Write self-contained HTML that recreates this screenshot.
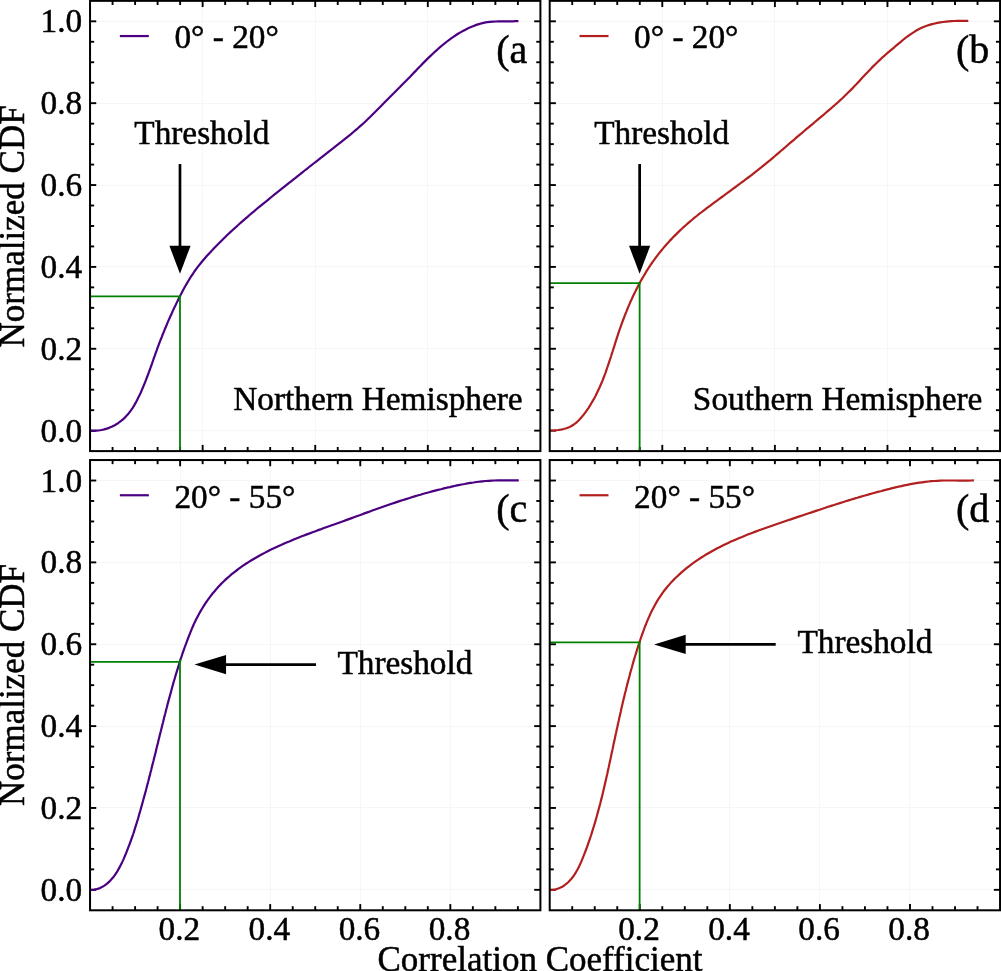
<!DOCTYPE html>
<html lang="en">
<head>
<meta charset="utf-8">
<title>Normalized CDF of correlation coefficient</title>
<style>
html,body{margin:0;padding:0;background:#fff;}
body{width:1001px;height:971px;overflow:hidden;}
svg{display:block;font-family:"Liberation Serif","Times New Roman",Times,serif;fill:#000;}
svg text{fill:#000;stroke:#000;stroke-width:0.5px;}
</style>
</head>
<body>
<svg width="1001" height="971" viewBox="0 0 1001 971">
<rect x="0" y="0" width="1001" height="971" fill="#fff"/>
<g>
<line x1="202.50" y1="0.85" x2="202.50" y2="451.10" stroke="#f6f6f6" stroke-width="1" />
<line x1="315.50" y1="0.85" x2="315.50" y2="451.10" stroke="#f6f6f6" stroke-width="1" />
<line x1="427.50" y1="0.85" x2="427.50" y2="451.10" stroke="#f6f6f6" stroke-width="1" />
<line x1="90.05" y1="430.50" x2="540.40" y2="430.50" stroke="#f6f6f6" stroke-width="1" />
<line x1="90.05" y1="348.50" x2="540.40" y2="348.50" stroke="#f6f6f6" stroke-width="1" />
<line x1="90.05" y1="266.50" x2="540.40" y2="266.50" stroke="#f6f6f6" stroke-width="1" />
<line x1="90.05" y1="185.50" x2="540.40" y2="185.50" stroke="#f6f6f6" stroke-width="1" />
<line x1="90.05" y1="103.50" x2="540.40" y2="103.50" stroke="#f6f6f6" stroke-width="1" />
<line x1="90.05" y1="21.50" x2="540.40" y2="21.50" stroke="#f6f6f6" stroke-width="1" />
<line x1="112.57" y1="451.10" x2="112.57" y2="447.00" stroke="#000" stroke-width="1.9" />
<line x1="112.57" y1="0.85" x2="112.57" y2="4.95" stroke="#000" stroke-width="1.9" />
<line x1="135.09" y1="451.10" x2="135.09" y2="447.00" stroke="#000" stroke-width="1.9" />
<line x1="135.09" y1="0.85" x2="135.09" y2="4.95" stroke="#000" stroke-width="1.9" />
<line x1="157.60" y1="451.10" x2="157.60" y2="447.00" stroke="#000" stroke-width="1.9" />
<line x1="157.60" y1="0.85" x2="157.60" y2="4.95" stroke="#000" stroke-width="1.9" />
<line x1="180.12" y1="451.10" x2="180.12" y2="447.00" stroke="#000" stroke-width="1.9" />
<line x1="180.12" y1="0.85" x2="180.12" y2="4.95" stroke="#000" stroke-width="1.9" />
<line x1="202.64" y1="451.10" x2="202.64" y2="444.90" stroke="#000" stroke-width="1.9" />
<line x1="202.64" y1="0.85" x2="202.64" y2="7.05" stroke="#000" stroke-width="1.9" />
<line x1="225.16" y1="451.10" x2="225.16" y2="447.00" stroke="#000" stroke-width="1.9" />
<line x1="225.16" y1="0.85" x2="225.16" y2="4.95" stroke="#000" stroke-width="1.9" />
<line x1="247.67" y1="451.10" x2="247.67" y2="447.00" stroke="#000" stroke-width="1.9" />
<line x1="247.67" y1="0.85" x2="247.67" y2="4.95" stroke="#000" stroke-width="1.9" />
<line x1="270.19" y1="451.10" x2="270.19" y2="447.00" stroke="#000" stroke-width="1.9" />
<line x1="270.19" y1="0.85" x2="270.19" y2="4.95" stroke="#000" stroke-width="1.9" />
<line x1="292.71" y1="451.10" x2="292.71" y2="447.00" stroke="#000" stroke-width="1.9" />
<line x1="292.71" y1="0.85" x2="292.71" y2="4.95" stroke="#000" stroke-width="1.9" />
<line x1="315.23" y1="451.10" x2="315.23" y2="444.90" stroke="#000" stroke-width="1.9" />
<line x1="315.23" y1="0.85" x2="315.23" y2="7.05" stroke="#000" stroke-width="1.9" />
<line x1="337.74" y1="451.10" x2="337.74" y2="447.00" stroke="#000" stroke-width="1.9" />
<line x1="337.74" y1="0.85" x2="337.74" y2="4.95" stroke="#000" stroke-width="1.9" />
<line x1="360.26" y1="451.10" x2="360.26" y2="447.00" stroke="#000" stroke-width="1.9" />
<line x1="360.26" y1="0.85" x2="360.26" y2="4.95" stroke="#000" stroke-width="1.9" />
<line x1="382.78" y1="451.10" x2="382.78" y2="447.00" stroke="#000" stroke-width="1.9" />
<line x1="382.78" y1="0.85" x2="382.78" y2="4.95" stroke="#000" stroke-width="1.9" />
<line x1="405.30" y1="451.10" x2="405.30" y2="447.00" stroke="#000" stroke-width="1.9" />
<line x1="405.30" y1="0.85" x2="405.30" y2="4.95" stroke="#000" stroke-width="1.9" />
<line x1="427.81" y1="451.10" x2="427.81" y2="444.90" stroke="#000" stroke-width="1.9" />
<line x1="427.81" y1="0.85" x2="427.81" y2="7.05" stroke="#000" stroke-width="1.9" />
<line x1="450.33" y1="451.10" x2="450.33" y2="447.00" stroke="#000" stroke-width="1.9" />
<line x1="450.33" y1="0.85" x2="450.33" y2="4.95" stroke="#000" stroke-width="1.9" />
<line x1="472.85" y1="451.10" x2="472.85" y2="447.00" stroke="#000" stroke-width="1.9" />
<line x1="472.85" y1="0.85" x2="472.85" y2="4.95" stroke="#000" stroke-width="1.9" />
<line x1="495.37" y1="451.10" x2="495.37" y2="447.00" stroke="#000" stroke-width="1.9" />
<line x1="495.37" y1="0.85" x2="495.37" y2="4.95" stroke="#000" stroke-width="1.9" />
<line x1="517.88" y1="451.10" x2="517.88" y2="447.00" stroke="#000" stroke-width="1.9" />
<line x1="517.88" y1="0.85" x2="517.88" y2="4.95" stroke="#000" stroke-width="1.9" />
<line x1="90.05" y1="430.63" x2="96.25" y2="430.63" stroke="#000" stroke-width="1.9" />
<line x1="540.40" y1="430.63" x2="534.20" y2="430.63" stroke="#000" stroke-width="1.9" />
<line x1="90.05" y1="410.17" x2="94.15" y2="410.17" stroke="#000" stroke-width="1.9" />
<line x1="540.40" y1="410.17" x2="536.30" y2="410.17" stroke="#000" stroke-width="1.9" />
<line x1="90.05" y1="389.70" x2="94.15" y2="389.70" stroke="#000" stroke-width="1.9" />
<line x1="540.40" y1="389.70" x2="536.30" y2="389.70" stroke="#000" stroke-width="1.9" />
<line x1="90.05" y1="369.24" x2="94.15" y2="369.24" stroke="#000" stroke-width="1.9" />
<line x1="540.40" y1="369.24" x2="536.30" y2="369.24" stroke="#000" stroke-width="1.9" />
<line x1="90.05" y1="348.77" x2="96.25" y2="348.77" stroke="#000" stroke-width="1.9" />
<line x1="540.40" y1="348.77" x2="534.20" y2="348.77" stroke="#000" stroke-width="1.9" />
<line x1="90.05" y1="328.30" x2="94.15" y2="328.30" stroke="#000" stroke-width="1.9" />
<line x1="540.40" y1="328.30" x2="536.30" y2="328.30" stroke="#000" stroke-width="1.9" />
<line x1="90.05" y1="307.84" x2="94.15" y2="307.84" stroke="#000" stroke-width="1.9" />
<line x1="540.40" y1="307.84" x2="536.30" y2="307.84" stroke="#000" stroke-width="1.9" />
<line x1="90.05" y1="287.37" x2="94.15" y2="287.37" stroke="#000" stroke-width="1.9" />
<line x1="540.40" y1="287.37" x2="536.30" y2="287.37" stroke="#000" stroke-width="1.9" />
<line x1="90.05" y1="266.91" x2="96.25" y2="266.91" stroke="#000" stroke-width="1.9" />
<line x1="540.40" y1="266.91" x2="534.20" y2="266.91" stroke="#000" stroke-width="1.9" />
<line x1="90.05" y1="246.44" x2="94.15" y2="246.44" stroke="#000" stroke-width="1.9" />
<line x1="540.40" y1="246.44" x2="536.30" y2="246.44" stroke="#000" stroke-width="1.9" />
<line x1="90.05" y1="225.98" x2="94.15" y2="225.98" stroke="#000" stroke-width="1.9" />
<line x1="540.40" y1="225.98" x2="536.30" y2="225.98" stroke="#000" stroke-width="1.9" />
<line x1="90.05" y1="205.51" x2="94.15" y2="205.51" stroke="#000" stroke-width="1.9" />
<line x1="540.40" y1="205.51" x2="536.30" y2="205.51" stroke="#000" stroke-width="1.9" />
<line x1="90.05" y1="185.04" x2="96.25" y2="185.04" stroke="#000" stroke-width="1.9" />
<line x1="540.40" y1="185.04" x2="534.20" y2="185.04" stroke="#000" stroke-width="1.9" />
<line x1="90.05" y1="164.58" x2="94.15" y2="164.58" stroke="#000" stroke-width="1.9" />
<line x1="540.40" y1="164.58" x2="536.30" y2="164.58" stroke="#000" stroke-width="1.9" />
<line x1="90.05" y1="144.11" x2="94.15" y2="144.11" stroke="#000" stroke-width="1.9" />
<line x1="540.40" y1="144.11" x2="536.30" y2="144.11" stroke="#000" stroke-width="1.9" />
<line x1="90.05" y1="123.65" x2="94.15" y2="123.65" stroke="#000" stroke-width="1.9" />
<line x1="540.40" y1="123.65" x2="536.30" y2="123.65" stroke="#000" stroke-width="1.9" />
<line x1="90.05" y1="103.18" x2="96.25" y2="103.18" stroke="#000" stroke-width="1.9" />
<line x1="540.40" y1="103.18" x2="534.20" y2="103.18" stroke="#000" stroke-width="1.9" />
<line x1="90.05" y1="82.71" x2="94.15" y2="82.71" stroke="#000" stroke-width="1.9" />
<line x1="540.40" y1="82.71" x2="536.30" y2="82.71" stroke="#000" stroke-width="1.9" />
<line x1="90.05" y1="62.25" x2="94.15" y2="62.25" stroke="#000" stroke-width="1.9" />
<line x1="540.40" y1="62.25" x2="536.30" y2="62.25" stroke="#000" stroke-width="1.9" />
<line x1="90.05" y1="41.78" x2="94.15" y2="41.78" stroke="#000" stroke-width="1.9" />
<line x1="540.40" y1="41.78" x2="536.30" y2="41.78" stroke="#000" stroke-width="1.9" />
<line x1="90.05" y1="21.32" x2="96.25" y2="21.32" stroke="#000" stroke-width="1.9" />
<line x1="540.40" y1="21.32" x2="534.20" y2="21.32" stroke="#000" stroke-width="1.9" />
<path d="M90.0,430.6 L92.9,430.8 L95.8,430.7 L98.6,430.5 L101.5,430.0 L104.2,429.4 L106.9,428.6 L109.6,427.6 L112.2,426.5 L114.7,425.2 L117.1,423.8 L119.4,422.2 L121.7,420.4 L123.8,418.6 L125.8,416.6 L127.7,414.6 L129.4,412.4 L131.1,410.1 L132.7,407.8 L134.2,405.4 L135.6,402.9 L136.9,400.4 L138.2,397.8 L139.5,395.3 L140.7,392.7 L141.8,390.1 L142.9,387.5 L144.0,384.8 L145.1,382.2 L146.1,379.6 L147.1,377.0 L148.1,374.3 L149.1,371.7 L150.1,369.0 L151.0,366.3 L152.0,363.7 L152.9,361.0 L153.8,358.4 L154.8,355.7 L155.7,353.0 L156.7,350.4 L157.6,347.7 L158.6,345.1 L159.6,342.4 L160.6,339.8 L161.7,337.2 L162.7,334.5 L163.8,331.9 L164.8,329.3 L165.9,326.7 L167.0,324.1 L168.1,321.4 L169.3,318.8 L170.4,316.3 L171.6,313.7 L172.7,311.1 L173.9,308.5 L175.2,306.0 L176.4,303.4 L177.6,300.9 L178.9,298.3 L180.2,295.8 L181.5,293.3 L182.8,290.8 L184.1,288.3 L185.5,285.8 L186.9,283.4 L188.3,281.0 L189.8,278.5 L191.3,276.2 L192.9,273.8 L194.4,271.5 L196.1,269.2 L197.8,266.9 L199.5,264.7 L201.3,262.5 L203.1,260.3 L204.9,258.2 L206.8,256.0 L208.7,253.9 L210.6,251.9 L212.6,249.8 L214.5,247.7 L216.5,245.7 L218.5,243.7 L220.5,241.7 L222.5,239.7 L224.5,237.7 L226.5,235.8 L228.6,233.8 L230.6,231.9 L232.7,230.0 L234.8,228.1 L236.9,226.2 L239.0,224.3 L241.1,222.4 L243.2,220.6 L245.4,218.7 L247.5,216.9 L249.6,215.0 L251.8,213.2 L254.0,211.4 L256.1,209.5 L258.3,207.7 L260.5,205.9 L262.7,204.1 L264.9,202.3 L267.1,200.6 L269.2,198.8 L271.4,197.0 L273.7,195.2 L275.9,193.4 L278.1,191.7 L280.3,189.9 L282.5,188.1 L284.7,186.4 L286.9,184.6 L289.1,182.8 L291.4,181.1 L293.6,179.3 L295.8,177.6 L298.0,175.8 L300.2,174.1 L302.4,172.3 L304.7,170.5 L306.9,168.8 L309.1,167.0 L311.3,165.3 L313.6,163.5 L315.8,161.8 L318.0,160.1 L320.2,158.3 L322.4,156.6 L324.7,154.8 L326.9,153.1 L329.1,151.3 L331.4,149.6 L333.6,147.9 L335.8,146.1 L338.0,144.4 L340.3,142.6 L342.5,140.9 L344.7,139.1 L346.9,137.3 L349.1,135.6 L351.3,133.8 L353.4,132.0 L355.6,130.1 L357.8,128.3 L359.9,126.4 L362.0,124.6 L364.1,122.7 L366.2,120.7 L368.2,118.8 L370.3,116.8 L372.3,114.8 L374.3,112.8 L376.3,110.8 L378.3,108.8 L380.3,106.8 L382.3,104.7 L384.2,102.7 L386.2,100.7 L388.2,98.7 L390.2,96.7 L392.2,94.7 L394.2,92.8 L396.2,90.8 L398.2,88.8 L400.2,86.8 L402.1,84.8 L404.1,82.8 L406.1,80.8 L408.1,78.7 L410.1,76.7 L412.0,74.7 L414.0,72.6 L416.0,70.6 L417.9,68.5 L419.9,66.5 L421.9,64.4 L423.9,62.4 L425.9,60.4 L427.9,58.4 L430.0,56.4 L432.0,54.5 L434.1,52.5 L436.2,50.6 L438.3,48.7 L440.4,46.9 L442.6,45.0 L444.7,43.3 L447.0,41.5 L449.2,39.8 L451.5,38.2 L453.8,36.6 L456.1,35.0 L458.5,33.5 L460.9,32.1 L463.4,30.7 L465.9,29.4 L468.5,28.1 L471.0,27.0 L473.7,25.9 L476.3,24.9 L479.0,24.1 L481.7,23.3 L484.5,22.7 L487.2,22.2 L490.0,21.9 L492.9,21.6 L495.7,21.5 L498.6,21.4 L501.4,21.3 L504.3,21.3 L507.1,21.4 L510.0,21.3 L512.8,21.3 L515.6,21.2 L518.4,21.1" fill="none" stroke="#4b0082" stroke-width="2.2" stroke-linejoin="round"/>
<line x1="90.05" y1="296.40" x2="180.88" y2="296.40" stroke="#008000" stroke-width="1.8" />
<line x1="179.98" y1="451.10" x2="179.98" y2="295.50" stroke="#008000" stroke-width="1.8" />
<rect x="90.05" y="0.85" width="450.35" height="450.25" fill="none" stroke="#000" stroke-width="2.0"/>
<text x="82.15" y="441.73" font-size="33.3" text-anchor="end" >0.0</text>
<text x="82.15" y="359.87" font-size="33.3" text-anchor="end" >0.2</text>
<text x="82.15" y="278.01" font-size="33.3" text-anchor="end" >0.4</text>
<text x="82.15" y="196.14" font-size="33.3" text-anchor="end" >0.6</text>
<text x="82.15" y="114.28" font-size="33.3" text-anchor="end" >0.8</text>
<text x="82.15" y="32.42" font-size="33.3" text-anchor="end" >1.0</text>
<line x1="119.85" y1="36.05" x2="148.85" y2="36.05" stroke="#4b0082" stroke-width="2.2" />
<text x="174.45" y="48.45" font-size="33.3" text-anchor="start" >0° - 20°</text>
<text x="496.25" y="62.65" font-size="40" text-anchor="start" >(a</text>
<text x="522.65" y="410.15" font-size="33.3" text-anchor="end" >Northern Hemisphere</text>
<line x1="179.98" y1="164.05" x2="179.98" y2="246.85" stroke="#000" stroke-width="2.7" />
<polygon points="169.38,245.85 190.58,245.85 179.98,273.65" fill="#000"/>
<text x="134.30" y="144.30" font-size="33.3" text-anchor="start" >Threshold</text>
</g>
<g>
<line x1="662.50" y1="0.85" x2="662.50" y2="451.10" stroke="#f6f6f6" stroke-width="1" />
<line x1="774.50" y1="0.85" x2="774.50" y2="451.10" stroke="#f6f6f6" stroke-width="1" />
<line x1="887.50" y1="0.85" x2="887.50" y2="451.10" stroke="#f6f6f6" stroke-width="1" />
<line x1="549.70" y1="430.50" x2="1000.05" y2="430.50" stroke="#f6f6f6" stroke-width="1" />
<line x1="549.70" y1="348.50" x2="1000.05" y2="348.50" stroke="#f6f6f6" stroke-width="1" />
<line x1="549.70" y1="266.50" x2="1000.05" y2="266.50" stroke="#f6f6f6" stroke-width="1" />
<line x1="549.70" y1="185.50" x2="1000.05" y2="185.50" stroke="#f6f6f6" stroke-width="1" />
<line x1="549.70" y1="103.50" x2="1000.05" y2="103.50" stroke="#f6f6f6" stroke-width="1" />
<line x1="549.70" y1="21.50" x2="1000.05" y2="21.50" stroke="#f6f6f6" stroke-width="1" />
<line x1="572.22" y1="451.10" x2="572.22" y2="447.00" stroke="#000" stroke-width="1.9" />
<line x1="572.22" y1="0.85" x2="572.22" y2="4.95" stroke="#000" stroke-width="1.9" />
<line x1="594.74" y1="451.10" x2="594.74" y2="447.00" stroke="#000" stroke-width="1.9" />
<line x1="594.74" y1="0.85" x2="594.74" y2="4.95" stroke="#000" stroke-width="1.9" />
<line x1="617.25" y1="451.10" x2="617.25" y2="447.00" stroke="#000" stroke-width="1.9" />
<line x1="617.25" y1="0.85" x2="617.25" y2="4.95" stroke="#000" stroke-width="1.9" />
<line x1="639.77" y1="451.10" x2="639.77" y2="447.00" stroke="#000" stroke-width="1.9" />
<line x1="639.77" y1="0.85" x2="639.77" y2="4.95" stroke="#000" stroke-width="1.9" />
<line x1="662.29" y1="451.10" x2="662.29" y2="444.90" stroke="#000" stroke-width="1.9" />
<line x1="662.29" y1="0.85" x2="662.29" y2="7.05" stroke="#000" stroke-width="1.9" />
<line x1="684.81" y1="451.10" x2="684.81" y2="447.00" stroke="#000" stroke-width="1.9" />
<line x1="684.81" y1="0.85" x2="684.81" y2="4.95" stroke="#000" stroke-width="1.9" />
<line x1="707.32" y1="451.10" x2="707.32" y2="447.00" stroke="#000" stroke-width="1.9" />
<line x1="707.32" y1="0.85" x2="707.32" y2="4.95" stroke="#000" stroke-width="1.9" />
<line x1="729.84" y1="451.10" x2="729.84" y2="447.00" stroke="#000" stroke-width="1.9" />
<line x1="729.84" y1="0.85" x2="729.84" y2="4.95" stroke="#000" stroke-width="1.9" />
<line x1="752.36" y1="451.10" x2="752.36" y2="447.00" stroke="#000" stroke-width="1.9" />
<line x1="752.36" y1="0.85" x2="752.36" y2="4.95" stroke="#000" stroke-width="1.9" />
<line x1="774.88" y1="451.10" x2="774.88" y2="444.90" stroke="#000" stroke-width="1.9" />
<line x1="774.88" y1="0.85" x2="774.88" y2="7.05" stroke="#000" stroke-width="1.9" />
<line x1="797.39" y1="451.10" x2="797.39" y2="447.00" stroke="#000" stroke-width="1.9" />
<line x1="797.39" y1="0.85" x2="797.39" y2="4.95" stroke="#000" stroke-width="1.9" />
<line x1="819.91" y1="451.10" x2="819.91" y2="447.00" stroke="#000" stroke-width="1.9" />
<line x1="819.91" y1="0.85" x2="819.91" y2="4.95" stroke="#000" stroke-width="1.9" />
<line x1="842.43" y1="451.10" x2="842.43" y2="447.00" stroke="#000" stroke-width="1.9" />
<line x1="842.43" y1="0.85" x2="842.43" y2="4.95" stroke="#000" stroke-width="1.9" />
<line x1="864.95" y1="451.10" x2="864.95" y2="447.00" stroke="#000" stroke-width="1.9" />
<line x1="864.95" y1="0.85" x2="864.95" y2="4.95" stroke="#000" stroke-width="1.9" />
<line x1="887.46" y1="451.10" x2="887.46" y2="444.90" stroke="#000" stroke-width="1.9" />
<line x1="887.46" y1="0.85" x2="887.46" y2="7.05" stroke="#000" stroke-width="1.9" />
<line x1="909.98" y1="451.10" x2="909.98" y2="447.00" stroke="#000" stroke-width="1.9" />
<line x1="909.98" y1="0.85" x2="909.98" y2="4.95" stroke="#000" stroke-width="1.9" />
<line x1="932.50" y1="451.10" x2="932.50" y2="447.00" stroke="#000" stroke-width="1.9" />
<line x1="932.50" y1="0.85" x2="932.50" y2="4.95" stroke="#000" stroke-width="1.9" />
<line x1="955.02" y1="451.10" x2="955.02" y2="447.00" stroke="#000" stroke-width="1.9" />
<line x1="955.02" y1="0.85" x2="955.02" y2="4.95" stroke="#000" stroke-width="1.9" />
<line x1="977.53" y1="451.10" x2="977.53" y2="447.00" stroke="#000" stroke-width="1.9" />
<line x1="977.53" y1="0.85" x2="977.53" y2="4.95" stroke="#000" stroke-width="1.9" />
<line x1="549.70" y1="430.63" x2="555.90" y2="430.63" stroke="#000" stroke-width="1.9" />
<line x1="1000.05" y1="430.63" x2="993.85" y2="430.63" stroke="#000" stroke-width="1.9" />
<line x1="549.70" y1="410.17" x2="553.80" y2="410.17" stroke="#000" stroke-width="1.9" />
<line x1="1000.05" y1="410.17" x2="995.95" y2="410.17" stroke="#000" stroke-width="1.9" />
<line x1="549.70" y1="389.70" x2="553.80" y2="389.70" stroke="#000" stroke-width="1.9" />
<line x1="1000.05" y1="389.70" x2="995.95" y2="389.70" stroke="#000" stroke-width="1.9" />
<line x1="549.70" y1="369.24" x2="553.80" y2="369.24" stroke="#000" stroke-width="1.9" />
<line x1="1000.05" y1="369.24" x2="995.95" y2="369.24" stroke="#000" stroke-width="1.9" />
<line x1="549.70" y1="348.77" x2="555.90" y2="348.77" stroke="#000" stroke-width="1.9" />
<line x1="1000.05" y1="348.77" x2="993.85" y2="348.77" stroke="#000" stroke-width="1.9" />
<line x1="549.70" y1="328.30" x2="553.80" y2="328.30" stroke="#000" stroke-width="1.9" />
<line x1="1000.05" y1="328.30" x2="995.95" y2="328.30" stroke="#000" stroke-width="1.9" />
<line x1="549.70" y1="307.84" x2="553.80" y2="307.84" stroke="#000" stroke-width="1.9" />
<line x1="1000.05" y1="307.84" x2="995.95" y2="307.84" stroke="#000" stroke-width="1.9" />
<line x1="549.70" y1="287.37" x2="553.80" y2="287.37" stroke="#000" stroke-width="1.9" />
<line x1="1000.05" y1="287.37" x2="995.95" y2="287.37" stroke="#000" stroke-width="1.9" />
<line x1="549.70" y1="266.91" x2="555.90" y2="266.91" stroke="#000" stroke-width="1.9" />
<line x1="1000.05" y1="266.91" x2="993.85" y2="266.91" stroke="#000" stroke-width="1.9" />
<line x1="549.70" y1="246.44" x2="553.80" y2="246.44" stroke="#000" stroke-width="1.9" />
<line x1="1000.05" y1="246.44" x2="995.95" y2="246.44" stroke="#000" stroke-width="1.9" />
<line x1="549.70" y1="225.98" x2="553.80" y2="225.98" stroke="#000" stroke-width="1.9" />
<line x1="1000.05" y1="225.98" x2="995.95" y2="225.98" stroke="#000" stroke-width="1.9" />
<line x1="549.70" y1="205.51" x2="553.80" y2="205.51" stroke="#000" stroke-width="1.9" />
<line x1="1000.05" y1="205.51" x2="995.95" y2="205.51" stroke="#000" stroke-width="1.9" />
<line x1="549.70" y1="185.04" x2="555.90" y2="185.04" stroke="#000" stroke-width="1.9" />
<line x1="1000.05" y1="185.04" x2="993.85" y2="185.04" stroke="#000" stroke-width="1.9" />
<line x1="549.70" y1="164.58" x2="553.80" y2="164.58" stroke="#000" stroke-width="1.9" />
<line x1="1000.05" y1="164.58" x2="995.95" y2="164.58" stroke="#000" stroke-width="1.9" />
<line x1="549.70" y1="144.11" x2="553.80" y2="144.11" stroke="#000" stroke-width="1.9" />
<line x1="1000.05" y1="144.11" x2="995.95" y2="144.11" stroke="#000" stroke-width="1.9" />
<line x1="549.70" y1="123.65" x2="553.80" y2="123.65" stroke="#000" stroke-width="1.9" />
<line x1="1000.05" y1="123.65" x2="995.95" y2="123.65" stroke="#000" stroke-width="1.9" />
<line x1="549.70" y1="103.18" x2="555.90" y2="103.18" stroke="#000" stroke-width="1.9" />
<line x1="1000.05" y1="103.18" x2="993.85" y2="103.18" stroke="#000" stroke-width="1.9" />
<line x1="549.70" y1="82.71" x2="553.80" y2="82.71" stroke="#000" stroke-width="1.9" />
<line x1="1000.05" y1="82.71" x2="995.95" y2="82.71" stroke="#000" stroke-width="1.9" />
<line x1="549.70" y1="62.25" x2="553.80" y2="62.25" stroke="#000" stroke-width="1.9" />
<line x1="1000.05" y1="62.25" x2="995.95" y2="62.25" stroke="#000" stroke-width="1.9" />
<line x1="549.70" y1="41.78" x2="553.80" y2="41.78" stroke="#000" stroke-width="1.9" />
<line x1="1000.05" y1="41.78" x2="995.95" y2="41.78" stroke="#000" stroke-width="1.9" />
<line x1="549.70" y1="21.32" x2="555.90" y2="21.32" stroke="#000" stroke-width="1.9" />
<line x1="1000.05" y1="21.32" x2="993.85" y2="21.32" stroke="#000" stroke-width="1.9" />
<path d="M549.7,430.6 L552.5,430.5 L555.3,430.3 L558.1,430.0 L560.9,429.6 L563.7,429.0 L566.4,428.2 L569.0,427.2 L571.5,426.0 L573.8,424.5 L576.0,422.8 L578.1,421.0 L580.0,419.0 L581.9,416.8 L583.7,414.6 L585.4,412.4 L587.0,410.1 L588.6,407.8 L590.1,405.4 L591.5,403.0 L592.9,400.6 L594.3,398.2 L595.6,395.8 L596.8,393.3 L598.0,390.8 L599.2,388.3 L600.3,385.7 L601.4,383.2 L602.5,380.6 L603.5,378.0 L604.5,375.4 L605.5,372.8 L606.4,370.1 L607.3,367.5 L608.2,364.8 L609.1,362.2 L610.0,359.5 L610.9,356.8 L611.7,354.2 L612.6,351.5 L613.4,348.8 L614.3,346.1 L615.1,343.4 L616.0,340.7 L616.8,338.1 L617.7,335.4 L618.6,332.7 L619.5,330.0 L620.4,327.4 L621.4,324.7 L622.3,322.1 L623.3,319.5 L624.3,316.8 L625.3,314.2 L626.4,311.6 L627.4,309.0 L628.5,306.4 L629.6,303.9 L630.7,301.3 L631.9,298.8 L633.0,296.2 L634.2,293.7 L635.5,291.2 L636.7,288.7 L638.0,286.2 L639.3,283.8 L640.6,281.3 L642.0,278.9 L643.4,276.5 L644.8,274.1 L646.2,271.7 L647.7,269.4 L649.2,267.0 L650.8,264.7 L652.3,262.4 L654.0,260.1 L655.6,257.9 L657.3,255.6 L659.0,253.4 L660.8,251.2 L662.5,249.1 L664.3,246.9 L666.2,244.8 L668.1,242.7 L669.9,240.6 L671.9,238.6 L673.8,236.6 L675.8,234.6 L677.8,232.6 L679.8,230.6 L681.9,228.7 L683.9,226.8 L686.0,225.0 L688.1,223.1 L690.2,221.3 L692.4,219.5 L694.5,217.7 L696.7,216.0 L698.9,214.2 L701.1,212.5 L703.3,210.8 L705.5,209.1 L707.7,207.4 L710.0,205.8 L712.2,204.1 L714.5,202.4 L716.7,200.8 L719.0,199.1 L721.2,197.5 L723.5,195.8 L725.8,194.2 L728.0,192.5 L730.3,190.9 L732.5,189.2 L734.8,187.5 L737.0,185.9 L739.3,184.2 L741.5,182.5 L743.8,180.9 L746.0,179.2 L748.3,177.5 L750.5,175.8 L752.7,174.1 L754.9,172.4 L757.1,170.6 L759.3,168.9 L761.5,167.2 L763.7,165.4 L765.8,163.6 L768.0,161.8 L770.2,160.1 L772.3,158.3 L774.4,156.5 L776.6,154.6 L778.7,152.8 L780.8,151.0 L783.0,149.2 L785.1,147.4 L787.2,145.5 L789.3,143.7 L791.4,141.9 L793.6,140.1 L795.7,138.2 L797.8,136.4 L799.9,134.6 L802.1,132.8 L804.2,131.0 L806.3,129.2 L808.5,127.4 L810.6,125.6 L812.8,123.8 L814.9,122.0 L817.1,120.2 L819.2,118.4 L821.3,116.6 L823.5,114.8 L825.6,113.0 L827.7,111.2 L829.9,109.4 L832.0,107.5 L834.1,105.7 L836.2,103.8 L838.3,102.0 L840.3,100.1 L842.4,98.2 L844.4,96.2 L846.4,94.3 L848.4,92.3 L850.4,90.4 L852.4,88.4 L854.3,86.3 L856.3,84.3 L858.2,82.3 L860.1,80.2 L862.0,78.1 L863.9,76.1 L865.8,74.0 L867.8,72.0 L869.7,69.9 L871.6,67.9 L873.6,65.9 L875.6,64.0 L877.6,62.0 L879.6,60.1 L881.6,58.2 L883.7,56.4 L885.8,54.5 L887.9,52.7 L890.0,50.9 L892.1,49.1 L894.3,47.3 L896.4,45.4 L898.6,43.6 L900.8,41.8 L902.9,40.0 L905.2,38.2 L907.4,36.5 L909.7,34.9 L912.0,33.3 L914.3,31.8 L916.7,30.3 L919.1,29.0 L921.6,27.8 L924.2,26.7 L926.8,25.8 L929.4,24.9 L932.1,24.1 L934.8,23.5 L937.5,22.9 L940.3,22.4 L943.1,22.0 L945.9,21.7 L948.7,21.4 L951.5,21.2 L954.4,21.0 L957.2,20.9 L960.0,20.9 L962.8,20.9 L965.6,20.9 L968.3,20.9" fill="none" stroke="#b21f1f" stroke-width="2.2" stroke-linejoin="round"/>
<line x1="549.70" y1="283.20" x2="640.53" y2="283.20" stroke="#008000" stroke-width="1.8" />
<line x1="639.63" y1="451.10" x2="639.63" y2="282.30" stroke="#008000" stroke-width="1.8" />
<rect x="549.70" y="0.85" width="450.35" height="450.25" fill="none" stroke="#000" stroke-width="2.0"/>
<line x1="579.50" y1="36.05" x2="608.50" y2="36.05" stroke="#b21f1f" stroke-width="2.2" />
<text x="634.10" y="48.45" font-size="33.3" text-anchor="start" >0° - 20°</text>
<text x="955.90" y="62.65" font-size="40" text-anchor="start" >(b</text>
<text x="982.30" y="410.15" font-size="33.3" text-anchor="end" >Southern Hemisphere</text>
<line x1="639.63" y1="164.05" x2="639.63" y2="246.85" stroke="#000" stroke-width="2.7" />
<polygon points="629.03,245.85 650.23,245.85 639.63,273.65" fill="#000"/>
<text x="594.20" y="144.30" font-size="33.3" text-anchor="start" >Threshold</text>
</g>
<g>
<line x1="180.50" y1="460.05" x2="180.50" y2="910.30" stroke="#f6f6f6" stroke-width="1" />
<line x1="270.50" y1="460.05" x2="270.50" y2="910.30" stroke="#f6f6f6" stroke-width="1" />
<line x1="360.50" y1="460.05" x2="360.50" y2="910.30" stroke="#f6f6f6" stroke-width="1" />
<line x1="450.50" y1="460.05" x2="450.50" y2="910.30" stroke="#f6f6f6" stroke-width="1" />
<line x1="90.05" y1="889.50" x2="540.40" y2="889.50" stroke="#f6f6f6" stroke-width="1" />
<line x1="90.05" y1="807.50" x2="540.40" y2="807.50" stroke="#f6f6f6" stroke-width="1" />
<line x1="90.05" y1="726.50" x2="540.40" y2="726.50" stroke="#f6f6f6" stroke-width="1" />
<line x1="90.05" y1="644.50" x2="540.40" y2="644.50" stroke="#f6f6f6" stroke-width="1" />
<line x1="90.05" y1="562.50" x2="540.40" y2="562.50" stroke="#f6f6f6" stroke-width="1" />
<line x1="90.05" y1="480.50" x2="540.40" y2="480.50" stroke="#f6f6f6" stroke-width="1" />
<line x1="112.57" y1="910.30" x2="112.57" y2="906.20" stroke="#000" stroke-width="1.9" />
<line x1="112.57" y1="460.05" x2="112.57" y2="464.15" stroke="#000" stroke-width="1.9" />
<line x1="135.09" y1="910.30" x2="135.09" y2="906.20" stroke="#000" stroke-width="1.9" />
<line x1="135.09" y1="460.05" x2="135.09" y2="464.15" stroke="#000" stroke-width="1.9" />
<line x1="157.60" y1="910.30" x2="157.60" y2="906.20" stroke="#000" stroke-width="1.9" />
<line x1="157.60" y1="460.05" x2="157.60" y2="464.15" stroke="#000" stroke-width="1.9" />
<line x1="180.12" y1="910.30" x2="180.12" y2="904.10" stroke="#000" stroke-width="1.9" />
<line x1="180.12" y1="460.05" x2="180.12" y2="466.25" stroke="#000" stroke-width="1.9" />
<line x1="202.64" y1="910.30" x2="202.64" y2="906.20" stroke="#000" stroke-width="1.9" />
<line x1="202.64" y1="460.05" x2="202.64" y2="464.15" stroke="#000" stroke-width="1.9" />
<line x1="225.16" y1="910.30" x2="225.16" y2="906.20" stroke="#000" stroke-width="1.9" />
<line x1="225.16" y1="460.05" x2="225.16" y2="464.15" stroke="#000" stroke-width="1.9" />
<line x1="247.67" y1="910.30" x2="247.67" y2="906.20" stroke="#000" stroke-width="1.9" />
<line x1="247.67" y1="460.05" x2="247.67" y2="464.15" stroke="#000" stroke-width="1.9" />
<line x1="270.19" y1="910.30" x2="270.19" y2="904.10" stroke="#000" stroke-width="1.9" />
<line x1="270.19" y1="460.05" x2="270.19" y2="466.25" stroke="#000" stroke-width="1.9" />
<line x1="292.71" y1="910.30" x2="292.71" y2="906.20" stroke="#000" stroke-width="1.9" />
<line x1="292.71" y1="460.05" x2="292.71" y2="464.15" stroke="#000" stroke-width="1.9" />
<line x1="315.23" y1="910.30" x2="315.23" y2="906.20" stroke="#000" stroke-width="1.9" />
<line x1="315.23" y1="460.05" x2="315.23" y2="464.15" stroke="#000" stroke-width="1.9" />
<line x1="337.74" y1="910.30" x2="337.74" y2="906.20" stroke="#000" stroke-width="1.9" />
<line x1="337.74" y1="460.05" x2="337.74" y2="464.15" stroke="#000" stroke-width="1.9" />
<line x1="360.26" y1="910.30" x2="360.26" y2="904.10" stroke="#000" stroke-width="1.9" />
<line x1="360.26" y1="460.05" x2="360.26" y2="466.25" stroke="#000" stroke-width="1.9" />
<line x1="382.78" y1="910.30" x2="382.78" y2="906.20" stroke="#000" stroke-width="1.9" />
<line x1="382.78" y1="460.05" x2="382.78" y2="464.15" stroke="#000" stroke-width="1.9" />
<line x1="405.30" y1="910.30" x2="405.30" y2="906.20" stroke="#000" stroke-width="1.9" />
<line x1="405.30" y1="460.05" x2="405.30" y2="464.15" stroke="#000" stroke-width="1.9" />
<line x1="427.81" y1="910.30" x2="427.81" y2="906.20" stroke="#000" stroke-width="1.9" />
<line x1="427.81" y1="460.05" x2="427.81" y2="464.15" stroke="#000" stroke-width="1.9" />
<line x1="450.33" y1="910.30" x2="450.33" y2="904.10" stroke="#000" stroke-width="1.9" />
<line x1="450.33" y1="460.05" x2="450.33" y2="466.25" stroke="#000" stroke-width="1.9" />
<line x1="472.85" y1="910.30" x2="472.85" y2="906.20" stroke="#000" stroke-width="1.9" />
<line x1="472.85" y1="460.05" x2="472.85" y2="464.15" stroke="#000" stroke-width="1.9" />
<line x1="495.37" y1="910.30" x2="495.37" y2="906.20" stroke="#000" stroke-width="1.9" />
<line x1="495.37" y1="460.05" x2="495.37" y2="464.15" stroke="#000" stroke-width="1.9" />
<line x1="517.88" y1="910.30" x2="517.88" y2="906.20" stroke="#000" stroke-width="1.9" />
<line x1="517.88" y1="460.05" x2="517.88" y2="464.15" stroke="#000" stroke-width="1.9" />
<line x1="90.05" y1="889.83" x2="96.25" y2="889.83" stroke="#000" stroke-width="1.9" />
<line x1="540.40" y1="889.83" x2="534.20" y2="889.83" stroke="#000" stroke-width="1.9" />
<line x1="90.05" y1="869.37" x2="94.15" y2="869.37" stroke="#000" stroke-width="1.9" />
<line x1="540.40" y1="869.37" x2="536.30" y2="869.37" stroke="#000" stroke-width="1.9" />
<line x1="90.05" y1="848.90" x2="94.15" y2="848.90" stroke="#000" stroke-width="1.9" />
<line x1="540.40" y1="848.90" x2="536.30" y2="848.90" stroke="#000" stroke-width="1.9" />
<line x1="90.05" y1="828.44" x2="94.15" y2="828.44" stroke="#000" stroke-width="1.9" />
<line x1="540.40" y1="828.44" x2="536.30" y2="828.44" stroke="#000" stroke-width="1.9" />
<line x1="90.05" y1="807.97" x2="96.25" y2="807.97" stroke="#000" stroke-width="1.9" />
<line x1="540.40" y1="807.97" x2="534.20" y2="807.97" stroke="#000" stroke-width="1.9" />
<line x1="90.05" y1="787.50" x2="94.15" y2="787.50" stroke="#000" stroke-width="1.9" />
<line x1="540.40" y1="787.50" x2="536.30" y2="787.50" stroke="#000" stroke-width="1.9" />
<line x1="90.05" y1="767.04" x2="94.15" y2="767.04" stroke="#000" stroke-width="1.9" />
<line x1="540.40" y1="767.04" x2="536.30" y2="767.04" stroke="#000" stroke-width="1.9" />
<line x1="90.05" y1="746.57" x2="94.15" y2="746.57" stroke="#000" stroke-width="1.9" />
<line x1="540.40" y1="746.57" x2="536.30" y2="746.57" stroke="#000" stroke-width="1.9" />
<line x1="90.05" y1="726.11" x2="96.25" y2="726.11" stroke="#000" stroke-width="1.9" />
<line x1="540.40" y1="726.11" x2="534.20" y2="726.11" stroke="#000" stroke-width="1.9" />
<line x1="90.05" y1="705.64" x2="94.15" y2="705.64" stroke="#000" stroke-width="1.9" />
<line x1="540.40" y1="705.64" x2="536.30" y2="705.64" stroke="#000" stroke-width="1.9" />
<line x1="90.05" y1="685.17" x2="94.15" y2="685.17" stroke="#000" stroke-width="1.9" />
<line x1="540.40" y1="685.17" x2="536.30" y2="685.17" stroke="#000" stroke-width="1.9" />
<line x1="90.05" y1="664.71" x2="94.15" y2="664.71" stroke="#000" stroke-width="1.9" />
<line x1="540.40" y1="664.71" x2="536.30" y2="664.71" stroke="#000" stroke-width="1.9" />
<line x1="90.05" y1="644.24" x2="96.25" y2="644.24" stroke="#000" stroke-width="1.9" />
<line x1="540.40" y1="644.24" x2="534.20" y2="644.24" stroke="#000" stroke-width="1.9" />
<line x1="90.05" y1="623.78" x2="94.15" y2="623.78" stroke="#000" stroke-width="1.9" />
<line x1="540.40" y1="623.78" x2="536.30" y2="623.78" stroke="#000" stroke-width="1.9" />
<line x1="90.05" y1="603.31" x2="94.15" y2="603.31" stroke="#000" stroke-width="1.9" />
<line x1="540.40" y1="603.31" x2="536.30" y2="603.31" stroke="#000" stroke-width="1.9" />
<line x1="90.05" y1="582.85" x2="94.15" y2="582.85" stroke="#000" stroke-width="1.9" />
<line x1="540.40" y1="582.85" x2="536.30" y2="582.85" stroke="#000" stroke-width="1.9" />
<line x1="90.05" y1="562.38" x2="96.25" y2="562.38" stroke="#000" stroke-width="1.9" />
<line x1="540.40" y1="562.38" x2="534.20" y2="562.38" stroke="#000" stroke-width="1.9" />
<line x1="90.05" y1="541.91" x2="94.15" y2="541.91" stroke="#000" stroke-width="1.9" />
<line x1="540.40" y1="541.91" x2="536.30" y2="541.91" stroke="#000" stroke-width="1.9" />
<line x1="90.05" y1="521.45" x2="94.15" y2="521.45" stroke="#000" stroke-width="1.9" />
<line x1="540.40" y1="521.45" x2="536.30" y2="521.45" stroke="#000" stroke-width="1.9" />
<line x1="90.05" y1="500.98" x2="94.15" y2="500.98" stroke="#000" stroke-width="1.9" />
<line x1="540.40" y1="500.98" x2="536.30" y2="500.98" stroke="#000" stroke-width="1.9" />
<line x1="90.05" y1="480.52" x2="96.25" y2="480.52" stroke="#000" stroke-width="1.9" />
<line x1="540.40" y1="480.52" x2="534.20" y2="480.52" stroke="#000" stroke-width="1.9" />
<path d="M90.0,889.9 L93.3,889.8 L96.4,889.2 L99.2,888.4 L101.9,887.1 L104.4,885.6 L106.8,883.9 L109.0,881.9 L111.0,879.8 L113.0,877.6 L114.8,875.2 L116.5,872.7 L118.0,870.1 L119.5,867.4 L120.9,864.7 L122.3,861.9 L123.6,859.1 L124.8,856.3 L126.0,853.4 L127.1,850.6 L128.2,847.7 L129.3,844.9 L130.4,842.0 L131.4,839.2 L132.4,836.3 L133.4,833.5 L134.3,830.6 L135.2,827.7 L136.1,824.9 L137.0,822.0 L137.9,819.1 L138.7,816.2 L139.5,813.3 L140.4,810.4 L141.2,807.5 L142.0,804.6 L142.8,801.7 L143.6,798.8 L144.4,795.9 L145.2,793.0 L146.0,790.1 L146.7,787.2 L147.5,784.2 L148.3,781.3 L149.0,778.4 L149.8,775.4 L150.5,772.5 L151.3,769.6 L152.0,766.6 L152.7,763.7 L153.5,760.8 L154.2,757.8 L155.0,754.9 L155.7,751.9 L156.4,749.0 L157.1,746.0 L157.9,743.1 L158.6,740.1 L159.3,737.2 L160.0,734.3 L160.8,731.3 L161.5,728.4 L162.2,725.4 L163.0,722.5 L163.7,719.5 L164.4,716.6 L165.2,713.7 L165.9,710.7 L166.7,707.8 L167.4,704.9 L168.2,701.9 L169.0,699.0 L169.8,696.1 L170.6,693.2 L171.4,690.2 L172.2,687.3 L173.0,684.4 L173.8,681.5 L174.7,678.6 L175.5,675.7 L176.4,672.8 L177.3,669.9 L178.2,667.0 L179.1,664.2 L180.0,661.3 L180.9,658.4 L181.9,655.5 L182.8,652.7 L183.8,649.8 L184.8,647.0 L185.9,644.1 L186.9,641.3 L188.0,638.5 L189.1,635.6 L190.2,632.8 L191.3,630.1 L192.5,627.3 L193.7,624.5 L195.0,621.8 L196.3,619.1 L197.7,616.4 L199.1,613.7 L200.6,611.1 L202.2,608.5 L203.8,605.9 L205.4,603.4 L207.1,600.8 L208.9,598.4 L210.8,595.9 L212.6,593.5 L214.6,591.2 L216.5,588.9 L218.6,586.6 L220.6,584.4 L222.8,582.3 L224.9,580.2 L227.2,578.2 L229.4,576.2 L231.7,574.2 L234.1,572.3 L236.5,570.5 L238.9,568.7 L241.3,566.9 L243.8,565.2 L246.3,563.5 L248.9,561.9 L251.5,560.3 L254.1,558.7 L256.7,557.2 L259.3,555.7 L262.0,554.3 L264.6,552.9 L267.3,551.5 L270.0,550.1 L272.7,548.8 L275.5,547.5 L278.2,546.2 L281.0,545.0 L283.7,543.7 L286.5,542.5 L289.3,541.4 L292.1,540.2 L294.9,539.0 L297.7,537.9 L300.5,536.8 L303.3,535.7 L306.2,534.6 L309.0,533.6 L311.9,532.5 L314.7,531.5 L317.5,530.4 L320.4,529.4 L323.2,528.3 L326.1,527.3 L329.0,526.3 L331.8,525.3 L334.7,524.3 L337.5,523.2 L340.4,522.2 L343.2,521.2 L346.1,520.1 L348.9,519.1 L351.7,518.1 L354.6,517.0 L357.4,516.0 L360.3,515.0 L363.1,513.9 L365.9,512.9 L368.8,511.9 L371.6,510.8 L374.5,509.8 L377.3,508.8 L380.2,507.8 L383.0,506.8 L385.9,505.8 L388.7,504.8 L391.6,503.8 L394.4,502.9 L397.3,501.9 L400.2,500.9 L403.1,500.0 L405.9,499.1 L408.8,498.2 L411.7,497.3 L414.6,496.4 L417.5,495.5 L420.4,494.7 L423.4,493.8 L426.3,493.0 L429.2,492.2 L432.1,491.4 L435.1,490.6 L438.0,489.9 L440.9,489.2 L443.9,488.4 L446.8,487.7 L449.8,487.1 L452.7,486.4 L455.7,485.7 L458.7,485.1 L461.6,484.5 L464.6,484.0 L467.5,483.4 L470.5,482.9 L473.5,482.5 L476.5,482.0 L479.5,481.7 L482.5,481.3 L485.5,481.0 L488.5,480.8 L491.5,480.6 L494.5,480.5 L497.6,480.4 L500.6,480.3 L503.6,480.4 L506.7,480.4 L509.7,480.4 L512.8,480.4 L515.8,480.4 L518.8,480.4" fill="none" stroke="#4b0082" stroke-width="2.2" stroke-linejoin="round"/>
<line x1="90.05" y1="661.90" x2="180.88" y2="661.90" stroke="#008000" stroke-width="1.8" />
<line x1="179.98" y1="910.30" x2="179.98" y2="659.00" stroke="#008000" stroke-width="1.8" />
<rect x="90.05" y="460.05" width="450.35" height="450.25" fill="none" stroke="#000" stroke-width="2.0"/>
<text x="82.15" y="900.93" font-size="33.3" text-anchor="end" >0.0</text>
<text x="82.15" y="819.07" font-size="33.3" text-anchor="end" >0.2</text>
<text x="82.15" y="737.21" font-size="33.3" text-anchor="end" >0.4</text>
<text x="82.15" y="655.34" font-size="33.3" text-anchor="end" >0.6</text>
<text x="82.15" y="573.48" font-size="33.3" text-anchor="end" >0.8</text>
<text x="82.15" y="491.62" font-size="33.3" text-anchor="end" >1.0</text>
<text x="179.32" y="940.00" font-size="33.3" text-anchor="middle" >0.2</text>
<text x="269.39" y="940.00" font-size="33.3" text-anchor="middle" >0.4</text>
<text x="359.46" y="940.00" font-size="33.3" text-anchor="middle" >0.6</text>
<text x="449.53" y="940.00" font-size="33.3" text-anchor="middle" >0.8</text>
<line x1="119.85" y1="495.25" x2="148.85" y2="495.25" stroke="#4b0082" stroke-width="2.2" />
<text x="174.45" y="507.65" font-size="33.3" text-anchor="start" >20° - 55°</text>
<text x="496.25" y="521.85" font-size="40" text-anchor="start" >(c</text>
<line x1="316.05" y1="664.60" x2="225.05" y2="664.60" stroke="#000" stroke-width="2.7" />
<polygon points="226.05,654.90 226.05,674.30 194.45,664.60" fill="#000"/>
<text x="337.40" y="673.60" font-size="33.3" text-anchor="start" >Threshold</text>
</g>
<g>
<line x1="639.50" y1="460.05" x2="639.50" y2="910.30" stroke="#f6f6f6" stroke-width="1" />
<line x1="729.50" y1="460.05" x2="729.50" y2="910.30" stroke="#f6f6f6" stroke-width="1" />
<line x1="819.50" y1="460.05" x2="819.50" y2="910.30" stroke="#f6f6f6" stroke-width="1" />
<line x1="909.50" y1="460.05" x2="909.50" y2="910.30" stroke="#f6f6f6" stroke-width="1" />
<line x1="549.70" y1="889.50" x2="1000.05" y2="889.50" stroke="#f6f6f6" stroke-width="1" />
<line x1="549.70" y1="807.50" x2="1000.05" y2="807.50" stroke="#f6f6f6" stroke-width="1" />
<line x1="549.70" y1="726.50" x2="1000.05" y2="726.50" stroke="#f6f6f6" stroke-width="1" />
<line x1="549.70" y1="644.50" x2="1000.05" y2="644.50" stroke="#f6f6f6" stroke-width="1" />
<line x1="549.70" y1="562.50" x2="1000.05" y2="562.50" stroke="#f6f6f6" stroke-width="1" />
<line x1="549.70" y1="480.50" x2="1000.05" y2="480.50" stroke="#f6f6f6" stroke-width="1" />
<line x1="572.22" y1="910.30" x2="572.22" y2="906.20" stroke="#000" stroke-width="1.9" />
<line x1="572.22" y1="460.05" x2="572.22" y2="464.15" stroke="#000" stroke-width="1.9" />
<line x1="594.74" y1="910.30" x2="594.74" y2="906.20" stroke="#000" stroke-width="1.9" />
<line x1="594.74" y1="460.05" x2="594.74" y2="464.15" stroke="#000" stroke-width="1.9" />
<line x1="617.25" y1="910.30" x2="617.25" y2="906.20" stroke="#000" stroke-width="1.9" />
<line x1="617.25" y1="460.05" x2="617.25" y2="464.15" stroke="#000" stroke-width="1.9" />
<line x1="639.77" y1="910.30" x2="639.77" y2="904.10" stroke="#000" stroke-width="1.9" />
<line x1="639.77" y1="460.05" x2="639.77" y2="466.25" stroke="#000" stroke-width="1.9" />
<line x1="662.29" y1="910.30" x2="662.29" y2="906.20" stroke="#000" stroke-width="1.9" />
<line x1="662.29" y1="460.05" x2="662.29" y2="464.15" stroke="#000" stroke-width="1.9" />
<line x1="684.81" y1="910.30" x2="684.81" y2="906.20" stroke="#000" stroke-width="1.9" />
<line x1="684.81" y1="460.05" x2="684.81" y2="464.15" stroke="#000" stroke-width="1.9" />
<line x1="707.32" y1="910.30" x2="707.32" y2="906.20" stroke="#000" stroke-width="1.9" />
<line x1="707.32" y1="460.05" x2="707.32" y2="464.15" stroke="#000" stroke-width="1.9" />
<line x1="729.84" y1="910.30" x2="729.84" y2="904.10" stroke="#000" stroke-width="1.9" />
<line x1="729.84" y1="460.05" x2="729.84" y2="466.25" stroke="#000" stroke-width="1.9" />
<line x1="752.36" y1="910.30" x2="752.36" y2="906.20" stroke="#000" stroke-width="1.9" />
<line x1="752.36" y1="460.05" x2="752.36" y2="464.15" stroke="#000" stroke-width="1.9" />
<line x1="774.88" y1="910.30" x2="774.88" y2="906.20" stroke="#000" stroke-width="1.9" />
<line x1="774.88" y1="460.05" x2="774.88" y2="464.15" stroke="#000" stroke-width="1.9" />
<line x1="797.39" y1="910.30" x2="797.39" y2="906.20" stroke="#000" stroke-width="1.9" />
<line x1="797.39" y1="460.05" x2="797.39" y2="464.15" stroke="#000" stroke-width="1.9" />
<line x1="819.91" y1="910.30" x2="819.91" y2="904.10" stroke="#000" stroke-width="1.9" />
<line x1="819.91" y1="460.05" x2="819.91" y2="466.25" stroke="#000" stroke-width="1.9" />
<line x1="842.43" y1="910.30" x2="842.43" y2="906.20" stroke="#000" stroke-width="1.9" />
<line x1="842.43" y1="460.05" x2="842.43" y2="464.15" stroke="#000" stroke-width="1.9" />
<line x1="864.95" y1="910.30" x2="864.95" y2="906.20" stroke="#000" stroke-width="1.9" />
<line x1="864.95" y1="460.05" x2="864.95" y2="464.15" stroke="#000" stroke-width="1.9" />
<line x1="887.46" y1="910.30" x2="887.46" y2="906.20" stroke="#000" stroke-width="1.9" />
<line x1="887.46" y1="460.05" x2="887.46" y2="464.15" stroke="#000" stroke-width="1.9" />
<line x1="909.98" y1="910.30" x2="909.98" y2="904.10" stroke="#000" stroke-width="1.9" />
<line x1="909.98" y1="460.05" x2="909.98" y2="466.25" stroke="#000" stroke-width="1.9" />
<line x1="932.50" y1="910.30" x2="932.50" y2="906.20" stroke="#000" stroke-width="1.9" />
<line x1="932.50" y1="460.05" x2="932.50" y2="464.15" stroke="#000" stroke-width="1.9" />
<line x1="955.02" y1="910.30" x2="955.02" y2="906.20" stroke="#000" stroke-width="1.9" />
<line x1="955.02" y1="460.05" x2="955.02" y2="464.15" stroke="#000" stroke-width="1.9" />
<line x1="977.53" y1="910.30" x2="977.53" y2="906.20" stroke="#000" stroke-width="1.9" />
<line x1="977.53" y1="460.05" x2="977.53" y2="464.15" stroke="#000" stroke-width="1.9" />
<line x1="549.70" y1="889.83" x2="555.90" y2="889.83" stroke="#000" stroke-width="1.9" />
<line x1="1000.05" y1="889.83" x2="993.85" y2="889.83" stroke="#000" stroke-width="1.9" />
<line x1="549.70" y1="869.37" x2="553.80" y2="869.37" stroke="#000" stroke-width="1.9" />
<line x1="1000.05" y1="869.37" x2="995.95" y2="869.37" stroke="#000" stroke-width="1.9" />
<line x1="549.70" y1="848.90" x2="553.80" y2="848.90" stroke="#000" stroke-width="1.9" />
<line x1="1000.05" y1="848.90" x2="995.95" y2="848.90" stroke="#000" stroke-width="1.9" />
<line x1="549.70" y1="828.44" x2="553.80" y2="828.44" stroke="#000" stroke-width="1.9" />
<line x1="1000.05" y1="828.44" x2="995.95" y2="828.44" stroke="#000" stroke-width="1.9" />
<line x1="549.70" y1="807.97" x2="555.90" y2="807.97" stroke="#000" stroke-width="1.9" />
<line x1="1000.05" y1="807.97" x2="993.85" y2="807.97" stroke="#000" stroke-width="1.9" />
<line x1="549.70" y1="787.50" x2="553.80" y2="787.50" stroke="#000" stroke-width="1.9" />
<line x1="1000.05" y1="787.50" x2="995.95" y2="787.50" stroke="#000" stroke-width="1.9" />
<line x1="549.70" y1="767.04" x2="553.80" y2="767.04" stroke="#000" stroke-width="1.9" />
<line x1="1000.05" y1="767.04" x2="995.95" y2="767.04" stroke="#000" stroke-width="1.9" />
<line x1="549.70" y1="746.57" x2="553.80" y2="746.57" stroke="#000" stroke-width="1.9" />
<line x1="1000.05" y1="746.57" x2="995.95" y2="746.57" stroke="#000" stroke-width="1.9" />
<line x1="549.70" y1="726.11" x2="555.90" y2="726.11" stroke="#000" stroke-width="1.9" />
<line x1="1000.05" y1="726.11" x2="993.85" y2="726.11" stroke="#000" stroke-width="1.9" />
<line x1="549.70" y1="705.64" x2="553.80" y2="705.64" stroke="#000" stroke-width="1.9" />
<line x1="1000.05" y1="705.64" x2="995.95" y2="705.64" stroke="#000" stroke-width="1.9" />
<line x1="549.70" y1="685.17" x2="553.80" y2="685.17" stroke="#000" stroke-width="1.9" />
<line x1="1000.05" y1="685.17" x2="995.95" y2="685.17" stroke="#000" stroke-width="1.9" />
<line x1="549.70" y1="664.71" x2="553.80" y2="664.71" stroke="#000" stroke-width="1.9" />
<line x1="1000.05" y1="664.71" x2="995.95" y2="664.71" stroke="#000" stroke-width="1.9" />
<line x1="549.70" y1="644.24" x2="555.90" y2="644.24" stroke="#000" stroke-width="1.9" />
<line x1="1000.05" y1="644.24" x2="993.85" y2="644.24" stroke="#000" stroke-width="1.9" />
<line x1="549.70" y1="623.78" x2="553.80" y2="623.78" stroke="#000" stroke-width="1.9" />
<line x1="1000.05" y1="623.78" x2="995.95" y2="623.78" stroke="#000" stroke-width="1.9" />
<line x1="549.70" y1="603.31" x2="553.80" y2="603.31" stroke="#000" stroke-width="1.9" />
<line x1="1000.05" y1="603.31" x2="995.95" y2="603.31" stroke="#000" stroke-width="1.9" />
<line x1="549.70" y1="582.85" x2="553.80" y2="582.85" stroke="#000" stroke-width="1.9" />
<line x1="1000.05" y1="582.85" x2="995.95" y2="582.85" stroke="#000" stroke-width="1.9" />
<line x1="549.70" y1="562.38" x2="555.90" y2="562.38" stroke="#000" stroke-width="1.9" />
<line x1="1000.05" y1="562.38" x2="993.85" y2="562.38" stroke="#000" stroke-width="1.9" />
<line x1="549.70" y1="541.91" x2="553.80" y2="541.91" stroke="#000" stroke-width="1.9" />
<line x1="1000.05" y1="541.91" x2="995.95" y2="541.91" stroke="#000" stroke-width="1.9" />
<line x1="549.70" y1="521.45" x2="553.80" y2="521.45" stroke="#000" stroke-width="1.9" />
<line x1="1000.05" y1="521.45" x2="995.95" y2="521.45" stroke="#000" stroke-width="1.9" />
<line x1="549.70" y1="500.98" x2="553.80" y2="500.98" stroke="#000" stroke-width="1.9" />
<line x1="1000.05" y1="500.98" x2="995.95" y2="500.98" stroke="#000" stroke-width="1.9" />
<line x1="549.70" y1="480.52" x2="555.90" y2="480.52" stroke="#000" stroke-width="1.9" />
<line x1="1000.05" y1="480.52" x2="993.85" y2="480.52" stroke="#000" stroke-width="1.9" />
<path d="M549.7,889.9 L553.0,889.8 L556.1,889.3 L558.9,888.3 L561.7,887.1 L564.2,885.5 L566.5,883.7 L568.7,881.7 L570.7,879.6 L572.6,877.3 L574.3,874.9 L575.9,872.3 L577.4,869.7 L578.8,867.0 L580.1,864.3 L581.4,861.4 L582.5,858.6 L583.7,855.7 L584.8,852.8 L585.9,850.0 L587.0,847.1 L588.0,844.2 L589.0,841.3 L590.0,838.4 L591.0,835.5 L591.9,832.6 L592.8,829.7 L593.7,826.7 L594.6,823.8 L595.5,820.9 L596.3,818.0 L597.1,815.0 L597.9,812.1 L598.7,809.2 L599.5,806.2 L600.3,803.3 L601.0,800.4 L601.8,797.4 L602.5,794.5 L603.2,791.5 L603.9,788.6 L604.6,785.6 L605.3,782.6 L605.9,779.7 L606.6,776.7 L607.3,773.8 L607.9,770.8 L608.6,767.8 L609.2,764.9 L609.8,761.9 L610.5,758.9 L611.1,756.0 L611.7,753.0 L612.4,750.0 L613.0,747.1 L613.6,744.1 L614.3,741.1 L614.9,738.2 L615.5,735.2 L616.2,732.2 L616.8,729.3 L617.5,726.3 L618.1,723.3 L618.8,720.4 L619.4,717.4 L620.1,714.4 L620.8,711.5 L621.4,708.5 L622.1,705.6 L622.8,702.6 L623.5,699.6 L624.2,696.7 L624.9,693.7 L625.7,690.8 L626.4,687.8 L627.1,684.9 L627.9,681.9 L628.7,679.0 L629.5,676.0 L630.2,673.1 L631.0,670.2 L631.9,667.2 L632.7,664.3 L633.5,661.4 L634.4,658.4 L635.3,655.5 L636.2,652.6 L637.1,649.7 L638.0,646.8 L639.0,643.8 L639.9,640.9 L640.9,638.0 L641.9,635.1 L642.9,632.3 L644.0,629.4 L645.0,626.5 L646.2,623.7 L647.3,620.9 L648.5,618.1 L649.8,615.3 L651.0,612.6 L652.4,609.8 L653.8,607.2 L655.2,604.5 L656.7,601.9 L658.2,599.3 L659.9,596.8 L661.6,594.3 L663.3,591.9 L665.1,589.5 L667.0,587.2 L669.0,584.9 L671.0,582.6 L673.1,580.4 L675.2,578.3 L677.4,576.2 L679.6,574.1 L681.8,572.1 L684.2,570.1 L686.5,568.2 L688.9,566.3 L691.4,564.4 L693.8,562.6 L696.3,560.9 L698.9,559.2 L701.4,557.5 L704.0,555.9 L706.6,554.3 L709.3,552.7 L711.9,551.2 L714.6,549.7 L717.3,548.3 L720.0,546.9 L722.7,545.5 L725.4,544.2 L728.2,542.9 L730.9,541.6 L733.7,540.4 L736.5,539.2 L739.3,538.0 L742.1,536.9 L744.9,535.7 L747.7,534.6 L750.6,533.5 L753.4,532.4 L756.2,531.4 L759.1,530.3 L762.0,529.3 L764.8,528.3 L767.7,527.3 L770.6,526.3 L773.4,525.3 L776.3,524.3 L779.2,523.3 L782.1,522.3 L785.0,521.3 L787.8,520.3 L790.7,519.4 L793.6,518.4 L796.5,517.4 L799.4,516.4 L802.2,515.5 L805.1,514.5 L808.0,513.5 L810.9,512.6 L813.8,511.6 L816.7,510.6 L819.6,509.7 L822.4,508.7 L825.3,507.8 L828.2,506.8 L831.1,505.9 L834.0,505.0 L836.9,504.0 L839.8,503.1 L842.7,502.2 L845.6,501.3 L848.5,500.4 L851.4,499.5 L854.3,498.6 L857.2,497.8 L860.2,496.9 L863.1,496.0 L866.0,495.2 L868.9,494.4 L871.9,493.5 L874.8,492.7 L877.7,491.9 L880.7,491.2 L883.6,490.4 L886.6,489.6 L889.5,488.9 L892.5,488.1 L895.4,487.4 L898.4,486.7 L901.3,486.1 L904.3,485.4 L907.3,484.8 L910.3,484.2 L913.3,483.7 L916.3,483.2 L919.3,482.7 L922.3,482.3 L925.3,481.9 L928.3,481.5 L931.3,481.2 L934.3,481.0 L937.4,480.8 L940.4,480.6 L943.5,480.5 L946.5,480.5 L949.6,480.5 L952.6,480.5 L955.7,480.5 L958.7,480.6 L961.8,480.6 L964.8,480.6 L967.8,480.6 L970.9,480.5 L973.9,480.4" fill="none" stroke="#b21f1f" stroke-width="2.2" stroke-linejoin="round"/>
<line x1="549.70" y1="642.40" x2="640.53" y2="642.40" stroke="#008000" stroke-width="1.8" />
<line x1="639.63" y1="910.30" x2="639.63" y2="641.50" stroke="#008000" stroke-width="1.8" />
<rect x="549.70" y="460.05" width="450.35" height="450.25" fill="none" stroke="#000" stroke-width="2.0"/>
<text x="638.97" y="940.00" font-size="33.3" text-anchor="middle" >0.2</text>
<text x="729.04" y="940.00" font-size="33.3" text-anchor="middle" >0.4</text>
<text x="819.11" y="940.00" font-size="33.3" text-anchor="middle" >0.6</text>
<text x="909.18" y="940.00" font-size="33.3" text-anchor="middle" >0.8</text>
<line x1="579.50" y1="495.25" x2="608.50" y2="495.25" stroke="#b21f1f" stroke-width="2.2" />
<text x="634.10" y="507.65" font-size="33.3" text-anchor="start" >20° - 55°</text>
<text x="955.90" y="521.85" font-size="40" text-anchor="start" >(d</text>
<line x1="775.70" y1="644.40" x2="684.70" y2="644.40" stroke="#000" stroke-width="2.7" />
<polygon points="685.70,634.70 685.70,654.10 654.10,644.40" fill="#000"/>
<text x="797.40" y="653.00" font-size="33.3" text-anchor="start" >Threshold</text>
</g>
<text transform="translate(24.0,226.4) rotate(-90)" font-size="35" text-anchor="middle">Normalized CDF</text>
<text transform="translate(24.0,685.0) rotate(-90)" font-size="35" text-anchor="middle">Normalized CDF</text>
<text x="540.00" y="971.30" font-size="35" text-anchor="middle" >Correlation Coefficient</text>
</svg>
</body>
</html>
